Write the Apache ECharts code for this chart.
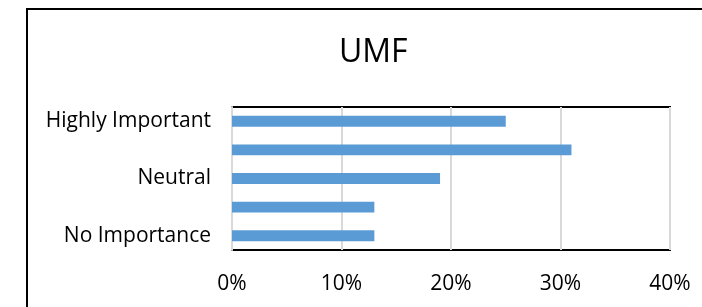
<!DOCTYPE html>
<html>
<head>
<meta charset="utf-8">
<script src="https://cdn.jsdelivr.net/npm/echarts@6/dist/echarts.min.js"></script>
<style>
  html, body { margin: 0; padding: 0; background: #fff; overflow: hidden; }
  #chart { width: 702px; height: 307px; }
</style>
</head>
<body>
<div id="chart"></div>
<script>
// data
const categories = ['Highly Important', 'Important', 'Neutral', 'Less Important', 'No Importance']
const shares = [0.25, 0.31, 0.19, 0.13, 0.13]
const xTicks = [0, 0.1, 0.2, 0.3, 0.4]

const FONT = 'Open Sans'

const chart = echarts.init( document.getElementById( 'chart' ) )

chart.setOption( {
  backgroundColor : '#fff',
  animation : false,
  title : {
    text : 'UMF',
    left : 334,
    top : 32,
    textStyle : {
      fontFamily : FONT,
      fontWeight : 'normal',
      fontSize : 32,
      color : '#000'
    }
  },
  // outer chart frame, only left and top edges are inside the picture
  graphic : [
    {
      type : 'line',
      shape : { x1 : 27, y1 : 8, x2 : 27, y2 : 307 },
      style : { stroke : '#000', lineWidth : 2 },
      silent : true
    },
    {
      type : 'line',
      shape : { x1 : 26, y1 : 9, x2 : 702, y2 : 9 },
      style : { stroke : '#000', lineWidth : 2 },
      silent : true
    }
  ],
  grid : {
    left : 232,
    right : 32,
    top : 107,
    bottom : 57,
    show : true,
    borderColor : '#000',
    borderWidth : 2,
    backgroundColor : 'transparent'
  },
  xAxis : {
    type : 'value',
    min : xTicks[0],
    max : xTicks[xTicks.length - 1],
    interval : xTicks[1] - xTicks[0],
    axisLine : { show : false },
    axisTick : { show : false },
    axisLabel : {
      margin : 24,
      fontFamily : FONT,
      fontSize : 21,
      color : '#000',
      formatter : v => Math.round( v * 100 ) + '%'
    },
    splitLine : {
      lineStyle : { color : '#d9d9d9', width : 2 }
    }
  },
  yAxis : {
    type : 'category',
    inverse : true,
    data : categories,
    axisLine : {
      show : true,
      lineStyle : { color : '#d9d9d9', width : 2 }
    },
    axisTick : { show : false },
    axisLabel : {
      interval : 1,
      margin : 21,
      fontFamily : FONT,
      fontSize : 21,
      color : '#000'
    }
  },
  series : [
    {
      type : 'bar',
      data : shares,
      barWidth : '38%',
      itemStyle : {
        color : '#5b9bd5'
      }
    }
  ]
} )
</script>
</body>
</html>
